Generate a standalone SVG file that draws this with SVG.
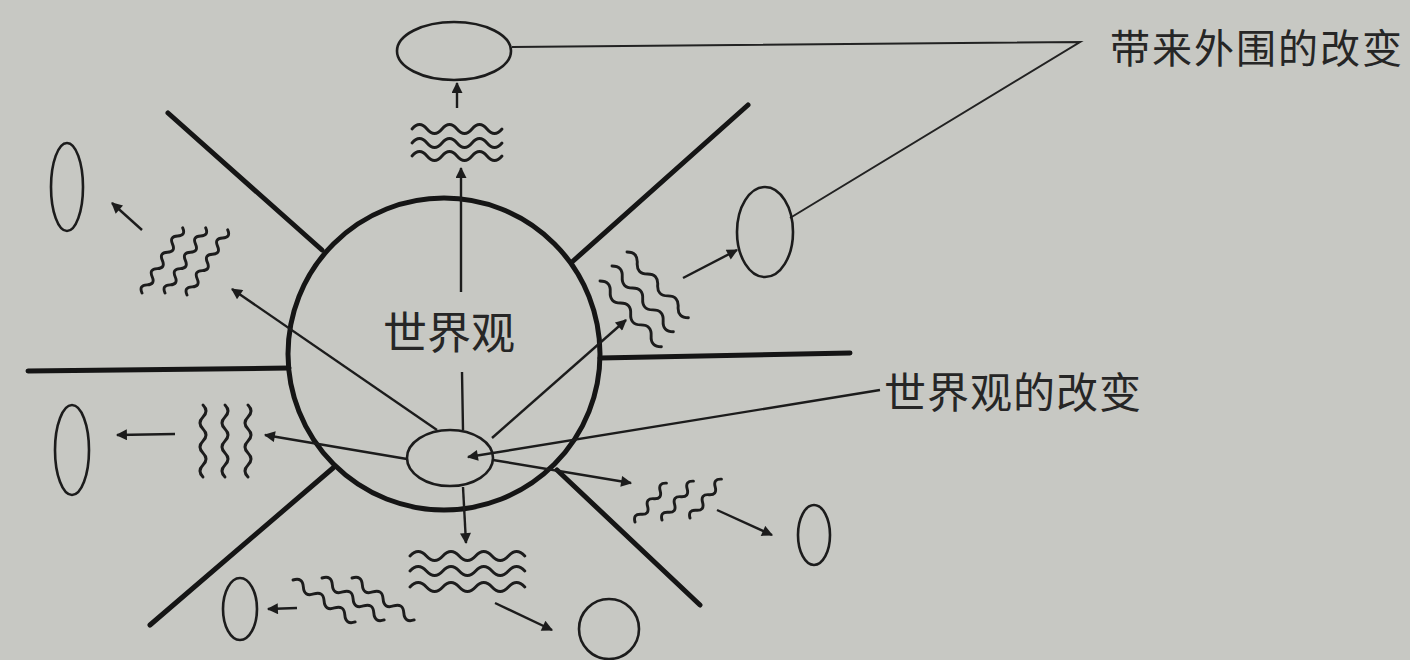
<svg xmlns="http://www.w3.org/2000/svg" xmlns:xlink="http://www.w3.org/1999/xlink" width="1410" height="660" viewBox="0 0 1410 660">
<style>
.thick{stroke:#151515;stroke-width:5;fill:none;stroke-linecap:round}
.node{stroke:#1c1c1c;stroke-width:2.6;fill:none}
.arr{stroke:#1c1c1c;stroke-width:2.4;fill:none;marker-end:url(#ah)}
.lead{stroke:#222;stroke-width:2;fill:none}
.wave{stroke:#1c1c1c;stroke-width:2.9;fill:none;stroke-linecap:round;stroke-linejoin:round}
.txt{font-family:"Noto Sans CJK SC","Noto Sans",sans-serif;fill:#262626}
</style>
<defs>
<marker id="ah" viewBox="0 0 10 10" refX="9" refY="5" markerWidth="14" markerHeight="11" markerUnits="userSpaceOnUse" orient="auto"><path d="M0,0 L10,5 L0,10 z" fill="#1c1c1c"/></marker>
<path id="wA" class="wave" d="M0,0 q7.5,-9 15,0 t15,0 t15,0 t15,0 t15,0 t15,0"/>
<path id="wB" class="wave" d="M0,0 q8.2,-9 16.4,0 t16.4,0 t16.4,0 t16.4,0 t16.4,0 t16.4,0 t16.4,0"/>
<path id="wC" class="wave" d="M0,0 q4.8,-7 9.6,0 t9.6,0 t9.6,0 t9.6,0 t9.6,0 t9.6,0 t9.6,0 t9.6,0"/>
<path id="wG" class="wave" d="M0,0 q6.25,-8 12.5,0 t12.5,0 t12.5,0 t12.5,0 t12.5,0 t12.5,0"/>
<path id="wD" class="wave" d="M0,0 q7.5,-8 15,0 t15,0 t15,0 t15,0 t15,0 t15,0"/>
<path id="wE" class="wave" d="M0,0 q5,-7 10,0 t10,0 t10,0 t10,0 t10,0"/>
<path id="wF" class="wave" d="M0,0 q6,-6 12,0 t12,0 t12,0 t12,0 t12,0 t12,0"/>
</defs>
<rect width="1410" height="660" fill="#c7c8c3"/>

<g id="rays">
<line class="thick" x1="168" y1="113" x2="322" y2="250"/>
<line class="thick" x1="748" y1="105" x2="572" y2="262"/>
<line class="thick" x1="28" y1="371" x2="289" y2="368"/>
<line class="thick" x1="600" y1="358" x2="850" y2="353"/>
<line class="thick" x1="150" y1="625" x2="333" y2="468"/>
<line class="thick" x1="557" y1="470" x2="700" y2="605"/>
</g>

<g id="world">
<circle cx="444" cy="354" r="156" fill="none" stroke="#151515" stroke-width="5"/>
<text class="txt" x="383" y="349" font-size="44">世界观</text>
</g>

<g id="core">
<ellipse class="node" cx="450" cy="458" rx="43" ry="28"/>
</g>

<g id="connectors">
<path class="arr" d="M463,430 L462,372 M461,292 L461,168"/>
<line class="arr" x1="437" y1="430" x2="232" y2="289"/>
<line class="arr" x1="492" y1="438" x2="626" y2="320"/>
<line class="arr" x1="407" y1="459" x2="265" y2="435"/>
<line class="arr" x1="493" y1="460" x2="631" y2="483"/>
<line class="arr" x1="463" y1="487" x2="466" y2="543"/>
<line class="arr" x1="457" y1="108" x2="457" y2="83"/>
<line class="arr" x1="142" y1="230" x2="112" y2="203"/>
<line class="arr" x1="683" y1="278" x2="737" y2="250"/>
<line class="arr" x1="175" y1="434" x2="117" y2="435"/>
<line class="arr" x1="297" y1="608" x2="268" y2="609"/>
<line class="arr" x1="495" y1="603" x2="552" y2="630"/>
<line class="arr" x1="717" y1="510" x2="772" y2="535"/>
<line class="arr" x1="880" y1="390" x2="468" y2="457"/>
<polyline class="lead" points="512,47 1080,42 790,218"/>
</g>

<g id="waves-top">
<use href="#wA" transform="translate(412,129)"/>
<use href="#wA" transform="translate(412,143)"/>
<use href="#wA" transform="translate(412,156)"/>
</g>
<g id="waves-upper-left">
<use href="#wC" transform="translate(142,293) rotate(-58)"/>
<use href="#wC" transform="translate(165,293) rotate(-58)"/>
<use href="#wC" transform="translate(187,295) rotate(-58)"/>
</g>
<g id="waves-upper-right">
<use href="#wD" transform="translate(627,252) rotate(47)"/>
<use href="#wD" transform="translate(612,266) rotate(47)"/>
<use href="#wD" transform="translate(600,281) rotate(47)"/>
</g>
<g id="waves-left">
<use href="#wF" transform="translate(203,405) rotate(90)"/>
<use href="#wF" transform="translate(225,405) rotate(90)"/>
<use href="#wF" transform="translate(248,405) rotate(90)"/>
</g>
<g id="waves-lower-left">
<use href="#wG" transform="translate(293,580) rotate(34)"/>
<use href="#wG" transform="translate(322,578) rotate(34)"/>
<use href="#wG" transform="translate(352,578) rotate(34)"/>
</g>
<g id="waves-bottom">
<use href="#wB" transform="translate(410,556)"/>
<use href="#wB" transform="translate(410,571)"/>
<use href="#wB" transform="translate(410,587)"/>
</g>
<g id="waves-lower-right">
<use href="#wE" transform="translate(635,522) rotate(-51)"/>
<use href="#wE" transform="translate(662,520) rotate(-51)"/>
<use href="#wE" transform="translate(690,518) rotate(-51)"/>
</g>

<g id="node-top"><ellipse class="node" cx="454" cy="51" rx="57" ry="29"/></g>
<g id="node-upper-right"><ellipse class="node" cx="765" cy="232" rx="28" ry="45"/></g>
<g id="node-upper-left"><ellipse class="node" cx="67" cy="187" rx="16" ry="44"/></g>
<g id="node-left"><ellipse class="node" cx="72" cy="450" rx="17" ry="45"/></g>
<g id="node-lower-left"><ellipse class="node" cx="240" cy="609" rx="17" ry="31"/></g>
<g id="node-bottom"><ellipse class="node" cx="609" cy="629" rx="30" ry="30"/></g>
<g id="node-lower-right"><ellipse class="node" cx="814" cy="535" rx="16" ry="30"/></g>

<g id="label-outer"><text class="txt" x="1110" y="63" font-size="40" letter-spacing="2">带来外围的改变</text></g>
<g id="label-change"><text class="txt" x="884" y="408" font-size="42" letter-spacing="1">世界观的改变</text></g>
</svg>
